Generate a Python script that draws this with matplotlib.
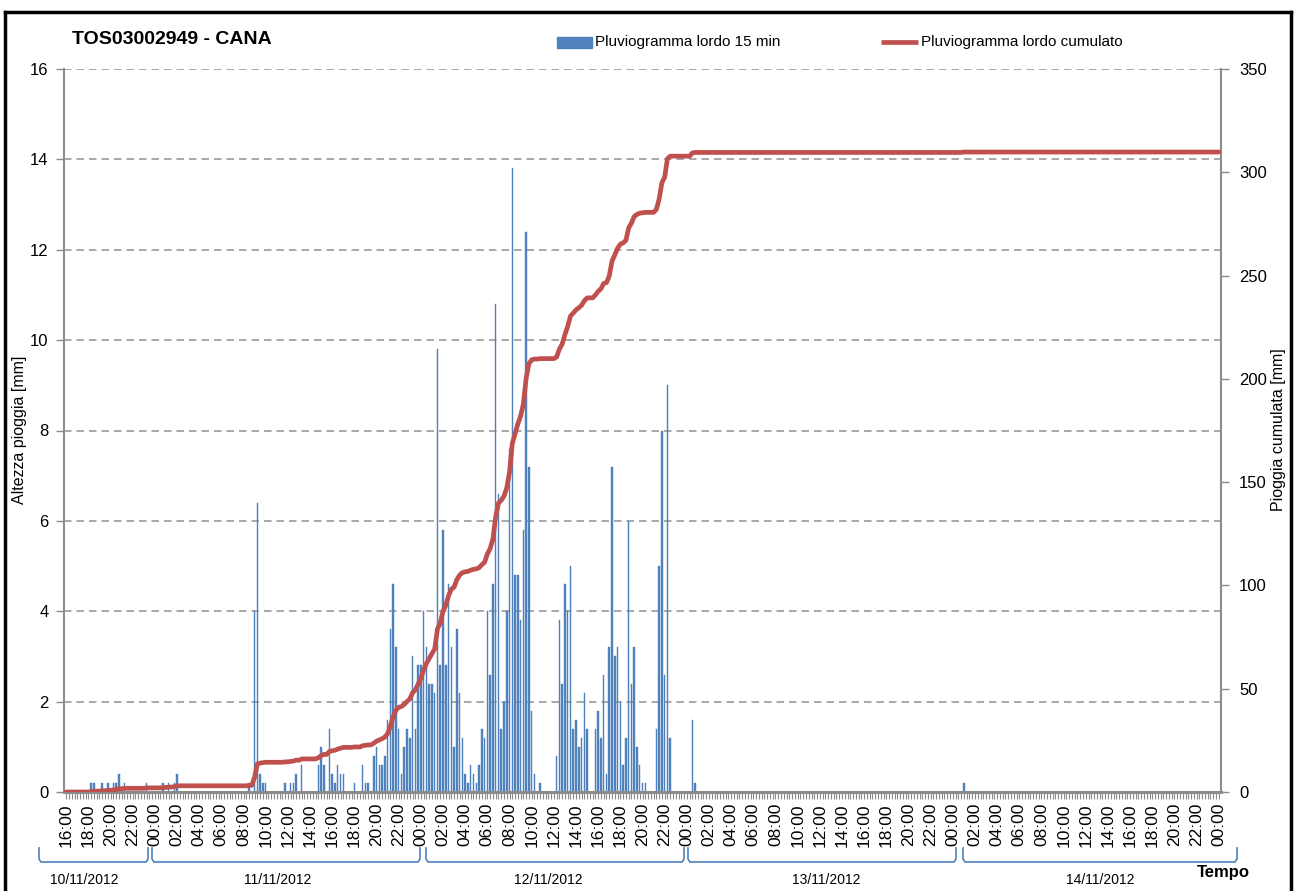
import matplotlib
matplotlib.use("Agg")
import matplotlib.pyplot as plt
import numpy as np
import pandas as pd
from matplotlib.lines import Line2D
from matplotlib.patches import Rectangle

plt.rcParams['font.family'] = ['Liberation Sans Narrow', 'Liberation Sans', 'DejaVu Sans']

# ---------------- data ----------------
title = "TOS03002949 - CANA"
series_bar = "Pluviogramma lordo 15 min"
series_line = "Pluviogramma lordo cumulato"
y_left_label = "Altezza pioggia [mm]"
y_right_label = "Pioggia cumulata [mm]"
x_label = "Tempo"

# 15-minute categories from 10/11/2012 16:00 to 15/11/2012 00:00
times = pd.date_range("2012-11-10 16:00", "2012-11-15 00:00", freq="15min")
day_labels = ["10/11/2012", "11/11/2012", "12/11/2012", "13/11/2012", "14/11/2012"]

# non-zero 15-min rainfall: slot index (from 10/11 16:00) and value [mm]
rain_slots = [9, 10, 13, 15, 17, 18, 19, 21, 29, 35, 37, 39, 40,
              66, 68, 69, 70, 71, 72, 79, 81, 82, 83, 85, 91, 92, 93, 95, 96, 97, 98, 99, 100,
              104, 107, 108, 109, 111, 112, 113, 114, 115, 116, 117, 118, 119, 120,
              121, 122, 123, 124, 125, 126, 127, 128, 129, 130, 131, 132, 133, 134, 135, 136,
              137, 138, 139, 140, 141, 142, 143, 144, 145, 146, 147, 148, 149, 150, 151, 152,
              153, 154, 155, 156, 157, 158, 159, 160, 161, 162, 163, 164, 165, 166, 167, 168,
              169, 171, 177, 178, 179, 180, 181, 182, 183, 184, 185, 186, 187, 188,
              191, 192, 193, 194, 195, 196, 197, 198, 199, 200, 201, 202, 203, 204, 205, 206,
              207, 208, 209, 213, 214, 215, 216, 217, 218, 226, 227, 324]
rain_mm = [0.2, 0.2, 0.2, 0.2, 0.2, 0.2, 0.4, 0.2, 0.2, 0.2, 0.2, 0.2, 0.4,
           0.2, 4.0, 6.4, 0.4, 0.2, 0.2, 0.2, 0.2, 0.2, 0.4, 0.6, 0.6, 1.0, 0.6, 1.4, 0.4, 0.2, 0.6, 0.4, 0.4,
           0.2, 0.6, 0.2, 0.2, 0.8, 1.0, 0.6, 0.6, 0.8, 1.6, 3.6, 4.6, 3.2, 1.4,
           0.4, 1.0, 1.4, 1.2, 3.0, 1.4, 2.8, 2.8, 4.0, 3.2, 2.4, 2.4, 2.2, 9.8, 2.8, 5.8,
           2.8, 4.6, 3.2, 1.0, 3.6, 2.2, 1.2, 0.4, 0.2, 0.6, 0.4, 0.2, 0.6, 1.4, 1.2, 4.0,
           2.6, 4.6, 10.8, 6.6, 1.4, 2.0, 4.0, 7.6, 13.8, 4.8, 4.8, 3.8, 5.8, 12.4, 7.2, 1.8,
           0.4, 0.2, 0.8, 3.8, 2.4, 4.6, 4.0, 5.0, 1.4, 1.6, 1.0, 1.2, 2.2, 1.4,
           1.4, 1.8, 1.2, 2.6, 0.4, 3.2, 7.2, 3.0, 3.2, 2.0, 0.6, 1.2, 6.0, 2.4, 3.2, 1.0,
           0.6, 0.2, 0.2, 1.4, 5.0, 8.0, 2.6, 9.0, 1.2, 1.6, 0.2, 0.2]

rain = np.zeros(len(times))
rain[rain_slots] = rain_mm
cumulative = np.cumsum(rain)

# ---------------- layout ----------------
W, H = 1298, 891
def fx(px): return px / W
def fy(py): return 1 - py / H

BLUE = "#4f81bd"
RED = "#c0504d"
GRID = "#9a9a9a"
AXC = "#8c8c8c"

fig = plt.figure(figsize=(W / 100, H / 100), dpi=100)
ax = fig.add_axes([fx(64), fy(792), fx(1221) - fx(64), fy(69) - fy(792)])
x = np.arange(len(times))

ax.bar(x, rain, width=0.55, color=BLUE, edgecolor=BLUE, linewidth=0.3, zorder=2)
ax.set_xlim(-0.8, len(times) - 1 + 0.8)
ax.set_ylim(0, 16)
ax.set_yticks(np.arange(0, 17, 2))
ax.set_axisbelow(True)
ax.grid(axis='y', color=GRID, linestyle=(0, (4.5, 3)), linewidth=1.2)
ax.grid(axis='x', visible=False)

major = x[::8]
ax.set_xticks(major)
ax.set_xticklabels([t.strftime("%H:%M") for t in times[::8]], rotation=90, fontsize=12.5)
ax.set_xticks(x, minor=True)
ax.tick_params(axis='x', which='both', direction='out', length=5, width=0.8, color=AXC, pad=3)
ax.tick_params(axis='y', direction='out', length=6, width=1, color=AXC, labelsize=12, pad=5)

for s in ['top', 'right']:
    ax.spines[s].set_visible(False)
ax.spines['left'].set_color(AXC)
ax.spines['left'].set_linewidth(1.5)
ax.spines['bottom'].set_color(AXC)
ax.spines['bottom'].set_linewidth(2.2)

ax2 = ax.twinx()
ax2.plot(x, cumulative, color=RED, lw=3.4, solid_joinstyle='round', solid_capstyle='round', zorder=3)
ax2.set_ylim(0, 350)
ax2.set_yticks(np.arange(0, 351, 50))
ax2.tick_params(axis='y', direction='out', length=6, width=1, color=AXC, labelsize=12, pad=7)
for s in ['top', 'left', 'bottom']:
    ax2.spines[s].set_visible(False)
ax2.spines['right'].set_color(AXC)
ax2.spines['right'].set_linewidth(1.5)

# titles / labels
fig.text(fx(72), fy(40), title, fontsize=14, fontweight='bold', ha='left', va='center')
fig.text(fx(20), fy(430), y_left_label, rotation=90, fontsize=11.5, ha='center', va='center')
fig.text(fx(1279), fy(430), y_right_label, rotation=90, fontsize=11.5, ha='center', va='center')
fig.text(fx(1223), fy(873), x_label, fontsize=12, fontweight='bold', ha='center', va='center')

# legend
fig.add_artist(Rectangle((fx(557), fy(48)), fx(592) - fx(557), fy(37) - fy(48),
                         transform=fig.transFigure, color=BLUE))
fig.text(fx(595), fy(42), series_bar, fontsize=11, ha='left', va='center')
fig.add_artist(Line2D([fx(881), fx(918)], [fy(42), fy(42)], transform=fig.transFigure,
                      color=RED, lw=3.4, solid_capstyle='butt'))
fig.text(fx(921), fy(42), series_line, fontsize=11, ha='left', va='center')

# day brackets (multi-level category labels)
brackets = [(39, 148), (152, 420), (426, 684), (688, 956), (963, 1237)]
label_x = [84, 278, 548, 826, 1100]
for (a, b), lx, lab in zip(brackets, label_x, day_labels):
    xs = [a, a, a + 2, b - 2, b, b]
    ys = [848, 859, 862, 862, 859, 848]
    fig.add_artist(Line2D([fx(v) for v in xs], [fy(v) for v in ys], transform=fig.transFigure,
                          color=BLUE, lw=1.2))
    fig.text(fx(lx), fy(880), lab, fontsize=10, ha='center', va='center')

# outer frame
for xs, ys in [([5, 5], [12, 891]), ([5, 1291], [12, 12]), ([1291, 1291], [12, 891])]:
    fig.add_artist(Line2D([fx(v) for v in xs], [fy(v) for v in ys], transform=fig.transFigure,
                          color='black', lw=2.5))

fig.savefig("out.png", dpi=100)
